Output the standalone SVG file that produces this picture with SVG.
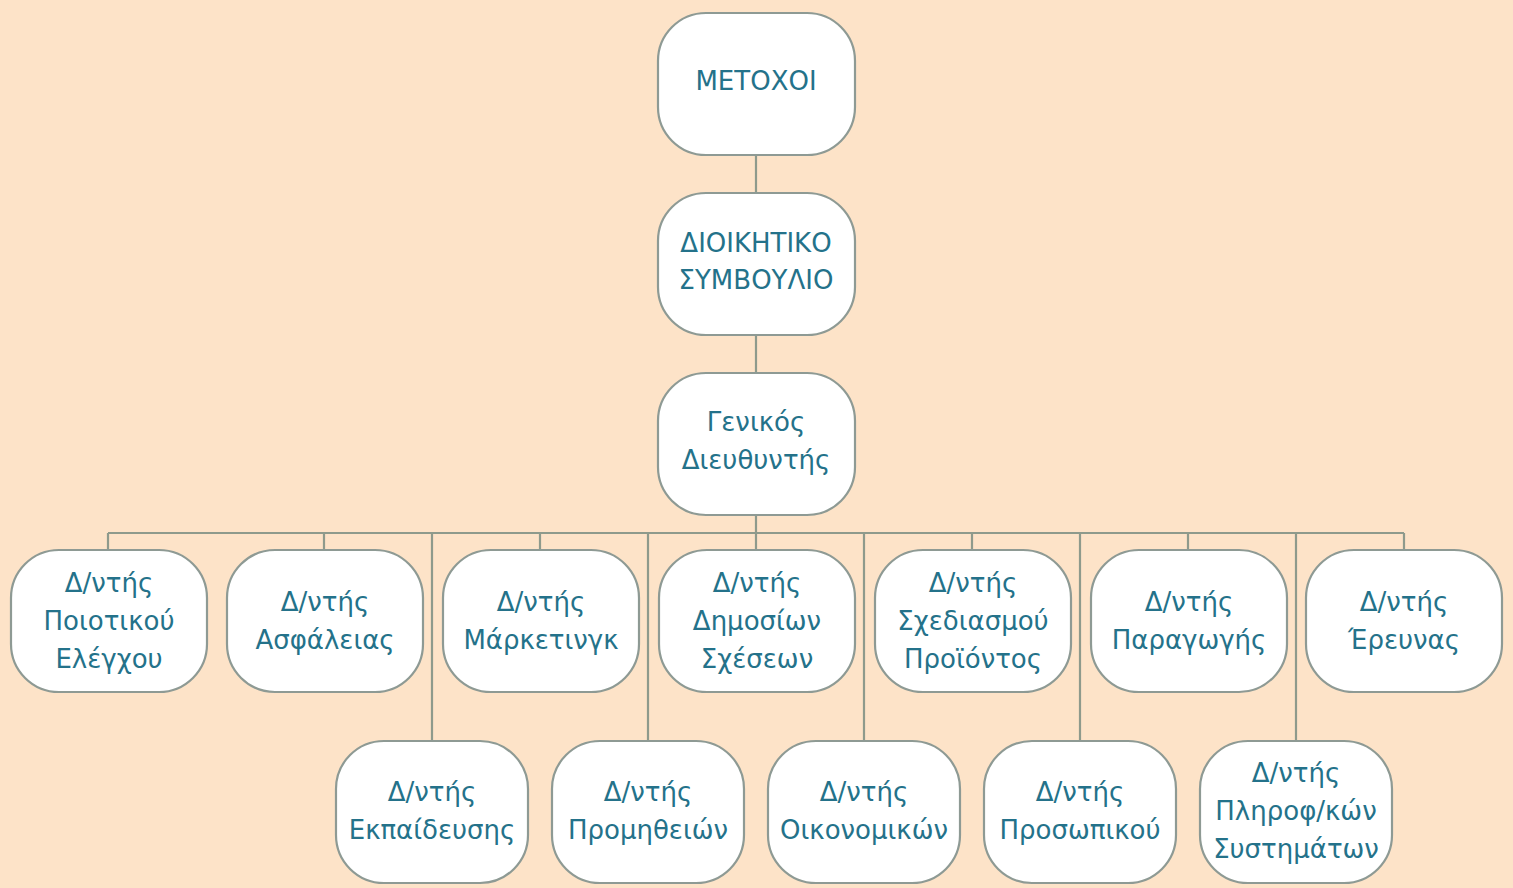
<svg xmlns="http://www.w3.org/2000/svg" width="1513" height="888" viewBox="0 0 1513 888">
<style>
.bg{fill:#fde3c8}
.box{fill:#ffffff;stroke:#8e9a94;stroke-width:2.2}
.t{font-family:"DejaVu Sans","Noto Sans",sans-serif;font-size:26px;fill:#24728a;text-anchor:middle;dominant-baseline:central}
.ln{stroke:#8e9a8c;stroke-width:2.2;fill:none}
</style>
<rect class="bg" x="0" y="0" width="1513" height="888"/>
<g id="connectors">
<path class="ln" d="M756 155V193M756 335V373M756 515V533M108 533H1404M108 533V550M324 533V550M540 533V550M756 533V550M972 533V550M1188 533V550M1404 533V550M432 533V741M648 533V741M864 533V741M1080 533V741M1296 533V741"/>
</g>
<g id="n-metoxoi"><rect class="box" x="658" y="13" width="197" height="142" rx="48"/><text class="t" x="756" y="81">ΜΕΤΟΧΟΙ</text></g>
<g id="n-ds"><rect class="box" x="658" y="193" width="197" height="142" rx="48"/><text class="t" x="756" y="243">ΔΙΟΙΚΗΤΙΚΟ</text><text class="t" x="756" y="280">ΣΥΜΒΟΥΛΙΟ</text></g>
<g id="n-gd"><rect class="box" x="658" y="373" width="197" height="142" rx="48"/><text class="t" x="756" y="422">Γενικός</text><text class="t" x="756" y="460">Διευθυντής</text></g>
<g id="n-poi"><rect class="box" x="11" y="550" width="196" height="142" rx="48"/><text class="t" x="109" y="583">Δ/ντής</text><text class="t" x="109" y="621">Ποιοτικού</text><text class="t" x="109" y="659">Ελέγχου</text></g>
<g id="n-asf"><rect class="box" x="227" y="550" width="196" height="142" rx="48"/><text class="t" x="325" y="602">Δ/ντής</text><text class="t" x="325" y="640">Ασφάλειας</text></g>
<g id="n-mar"><rect class="box" x="443" y="550" width="196" height="142" rx="48"/><text class="t" x="541" y="602">Δ/ντής</text><text class="t" x="541" y="640">Μάρκετινγκ</text></g>
<g id="n-dim"><rect class="box" x="659" y="550" width="196" height="142" rx="48"/><text class="t" x="757" y="583">Δ/ντής</text><text class="t" x="757" y="621">Δημοσίων</text><text class="t" x="757" y="659">Σχέσεων</text></g>
<g id="n-sxe"><rect class="box" x="875" y="550" width="196" height="142" rx="48"/><text class="t" x="973" y="583">Δ/ντής</text><text class="t" x="973" y="621">Σχεδιασμού</text><text class="t" x="973" y="659">Προϊόντος</text></g>
<g id="n-par"><rect class="box" x="1091" y="550" width="196" height="142" rx="48"/><text class="t" x="1189" y="602">Δ/ντής</text><text class="t" x="1189" y="640">Παραγωγής</text></g>
<g id="n-ere"><rect class="box" x="1306" y="550" width="196" height="142" rx="48"/><text class="t" x="1404" y="602">Δ/ντής</text><text class="t" x="1404" y="640">Έρευνας</text></g>
<g id="n-ekp"><rect class="box" x="336" y="741" width="192" height="142" rx="48"/><text class="t" x="432" y="792">Δ/ντής</text><text class="t" x="432" y="830">Εκπαίδευσης</text></g>
<g id="n-pro"><rect class="box" x="552" y="741" width="192" height="142" rx="48"/><text class="t" x="648" y="792">Δ/ντής</text><text class="t" x="648" y="830">Προμηθειών</text></g>
<g id="n-oik"><rect class="box" x="768" y="741" width="192" height="142" rx="48"/><text class="t" x="864" y="792">Δ/ντής</text><text class="t" x="864" y="830">Οικονομικών</text></g>
<g id="n-prs"><rect class="box" x="984" y="741" width="192" height="142" rx="48"/><text class="t" x="1080" y="792">Δ/ντής</text><text class="t" x="1080" y="830">Προσωπικού</text></g>
<g id="n-pls"><rect class="box" x="1200" y="741" width="192" height="142" rx="48"/><text class="t" x="1296" y="773">Δ/ντής</text><text class="t" x="1296" y="811">Πληροφ/κών</text><text class="t" x="1296" y="849">Συστημάτων</text></g>
</svg>
